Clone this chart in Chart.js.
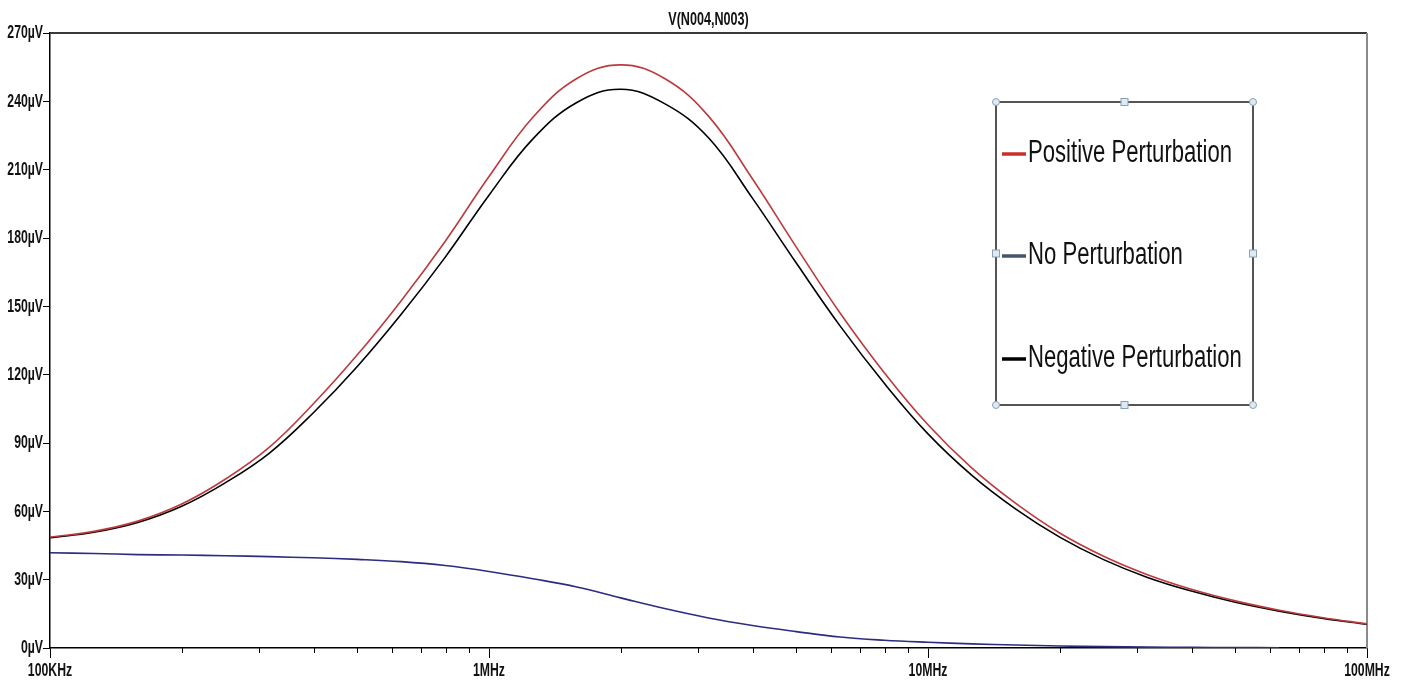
<!DOCTYPE html>
<html>
<head>
<meta charset="utf-8">
<script src="https://cdn.jsdelivr.net/npm/chart.js@4.4.1/dist/chart.umd.min.js"></script>
<style>
  html, body { margin: 0; padding: 0; background: #fff; }
</style>
</head>
<body>
<canvas id="chart" width="1404" height="684"></canvas>
<script>
// values, in µV, on a 10-per-decade frequency grid
const chartTitle = 'V(N004,N003)';
const freqs = [
    100e3, 125.9e3, 158.5e3, 199.5e3, 251.2e3, 316.2e3, 398.1e3, 501.2e3, 631e3, 794.3e3,
    1e6, 1.259e6, 1.585e6, 1.995e6, 2.512e6, 3.162e6, 3.981e6, 5.012e6, 6.31e6, 7.943e6,
    10e6, 12.59e6, 15.85e6, 19.95e6, 25.12e6, 31.62e6, 39.81e6, 50.12e6, 63.1e6, 79.43e6,
    100e6
];
const positive = [
    48.7, 51.2, 55.7, 63.2, 74.2, 88.2, 107.2, 128.7, 152.5, 178.5,
    207.0, 233.0, 250.0, 256.0, 250.0, 233.5, 206.0, 176.0, 147.0, 121.0,
    98.0, 79.0, 63.5, 50.5, 40.3, 32.2, 25.8, 20.7, 16.6, 13.3,
    10.6
];
const noPerturbation = [
    41.8, 41.5, 41.0, 40.8, 40.5, 40.1, 39.6, 38.9, 37.9, 36.2,
    33.6, 30.4, 26.8, 22.0, 17.3, 13.2, 9.9, 7.2, 4.8, 3.4,
    2.5, 1.8, 1.3, 0.9, 0.6, 0.4, 0.3, 0.2, 0.1, null,
    null
];
const negative = [
    48.4, 50.8, 55.1, 62.2, 72.6, 85.6, 103.3, 123.6, 146.5, 171.5,
    198.8, 223.5, 239.5, 245.3, 239.0, 224.0, 197.5, 169.0, 141.3, 116.3,
    94.0, 75.8, 61.0, 48.7, 38.8, 31.0, 25.0, 20.1, 16.2, 13.0,
    10.4
];
const seriesNames = ['Positive Perturbation', 'No Perturbation', 'Negative Perturbation'];
const yTicks = [0, 30, 60, 90, 120, 150, 180, 210, 240, 270];
const xMajorTicks = [1e5, 1e6, 1e7, 1e8];
const xTickLabels = ['100KHz', '1MHz', '10MHz', '100MHz'];

const lineColors = ['#bc3a3e', '#2c2c80', '#000000'];
const legendColors = ['#c8302c', '#44546a', '#000000'];
const axisFont = "bold 17.5px 'Liberation Sans', Arial, sans-serif";
const titleFont = "bold 18px 'Liberation Sans', Arial, sans-serif";
const legendFont = "31px 'Liberation Sans', Arial, sans-serif";
const narrow = 0.7;

const xMinorTicks = [];
xMajorTicks.slice(0, -1).forEach(d => {
    for (let k = 2; k <= 9; k++) xMinorTicks.push(d * k);
});

function toPoints(vals) {
    return vals.map((v, i) => ({ x: freqs[i], y: v }));
}

// text squeezed sideways, to look like the condensed plot font
function squeezed(ctx, text, x, y, align, font, sx, baseline) {
    ctx.save();
    ctx.font = font;
    ctx.fillStyle = '#111';
    ctx.textAlign = align;
    ctx.textBaseline = baseline || 'middle';
    ctx.translate(x, y);
    ctx.scale(sx, 1);
    ctx.fillText(text, 0, 0);
    ctx.restore();
}

// frame, labels, minor x ticks and the boxed legend
const extras = {
    id: 'extras',
    beforeDatasetsDraw(chart) {
        const { ctx, chartArea: a } = chart;
        ctx.save();
        ctx.lineWidth = 2;
        ctx.strokeStyle = '#3a3a3a';
        ctx.beginPath();
        ctx.moveTo(a.left, a.top);
        ctx.lineTo(a.right, a.top);
        ctx.stroke();
        ctx.strokeStyle = '#8a8a8a';
        ctx.beginPath();
        ctx.moveTo(a.right, a.top);
        ctx.lineTo(a.right, a.bottom);
        ctx.stroke();
        ctx.restore();
    },
    afterDraw(chart) {
        const { ctx, chartArea: a } = chart;
        const x = chart.scales.x;
        const y = chart.scales.y;

        squeezed(ctx, chartTitle, (a.left + a.right) / 2, 20, 'center', titleFont, narrow);
        yTicks.forEach(v => {
            squeezed(ctx, v + 'µV', a.left - 7, y.getPixelForValue(v) + 0.5, 'right', axisFont, narrow);
        });
        xMajorTicks.forEach((v, i) => {
            squeezed(ctx, xTickLabels[i], x.getPixelForValue(v), a.bottom + 23, 'center', axisFont, narrow);
        });

        ctx.save();
        ctx.strokeStyle = '#000';
        ctx.lineWidth = 1;
        xMinorTicks.forEach(f => {
            const px = Math.round(x.getPixelForValue(f)) + 0.5;
            ctx.beginPath();
            ctx.moveTo(px, a.bottom);
            ctx.lineTo(px, a.bottom + 5);
            ctx.stroke();
        });

        // legend box
        const box = { l: 996, t: 102, r: 1253, b: 405 };
        ctx.strokeStyle = '#555';
        ctx.lineWidth = 2;
        ctx.strokeRect(box.l, box.t, box.r - box.l, box.b - box.t);
        const mx = (box.l + box.r) / 2, my = (box.t + box.b) / 2;
        ctx.lineWidth = 1;
        ctx.fillStyle = '#dfe9f2';
        ctx.strokeStyle = '#8aa0b4';
        [[box.l, box.t], [box.r, box.t], [box.l, box.b], [box.r, box.b]].forEach(([cx, cy]) => {
            ctx.beginPath();
            ctx.arc(cx, cy, 3.5, 0, Math.PI * 2);
            ctx.fill();
            ctx.stroke();
        });
        [[mx, box.t], [mx, box.b], [box.l, my], [box.r, my]].forEach(([cx, cy]) => {
            ctx.fillRect(cx - 3.5, cy - 3.5, 7, 7);
            ctx.strokeRect(cx - 3.5, cy - 3.5, 7, 7);
        });

        ctx.font = legendFont;
        const legendSx = 204 / ctx.measureText(seriesNames[0]).width;
        const baselines = [162, 264, 367];
        chart.data.datasets.forEach((ds, i) => {
            const by = baselines[i];
            ctx.strokeStyle = legendColors[i];
            ctx.lineWidth = 3.5;
            ctx.beginPath();
            ctx.moveTo(1002, by - 8);
            ctx.lineTo(1026, by - 8);
            ctx.stroke();
            squeezed(ctx, ds.label, 1028, by, 'left', legendFont, legendSx, 'alphabetic');
        });
        ctx.restore();
    }
};

new Chart(document.getElementById('chart'), {
    type: 'line',
    data: {
        datasets: [
            { label: seriesNames[0], data: toPoints(positive), borderColor: lineColors[0] },
            { label: seriesNames[1], data: toPoints(noPerturbation), borderColor: lineColors[1] },
            { label: seriesNames[2], data: toPoints(negative), borderColor: lineColors[2] }
        ]
    },
    options: {
        responsive: false,
        animation: false,
        devicePixelRatio: 1,
        layout: { padding: { left: 0, right: 37, top: 33, bottom: 0 } },
        elements: {
            point: { radius: 0 },
            line: { borderWidth: 1.6, tension: 0.4, fill: false }
        },
        plugins: {
            legend: { display: false },
            tooltip: { enabled: false },
            title: { display: false }
        },
        scales: {
            x: {
                type: 'logarithmic',
                min: 1e5,
                max: 1e8,
                afterBuildTicks: s => { s.ticks = xMajorTicks.map(v => ({ value: v })); },
                afterFit: s => { s.height = 36; },
                grid: { drawOnChartArea: false, tickLength: 10, color: '#000' },
                border: { color: '#000', width: 1.5 },
                ticks: { display: false }
            },
            y: {
                min: 0,
                max: 270,
                afterBuildTicks: s => { s.ticks = yTicks.map(v => ({ value: v })); },
                afterFit: s => { s.width = 50; },
                grid: { drawOnChartArea: false, tickLength: 7, color: '#000' },
                border: { color: '#000', width: 1.5 },
                ticks: { display: false }
            }
        }
    },
    plugins: [extras]
});
</script>
</body>
</html>
